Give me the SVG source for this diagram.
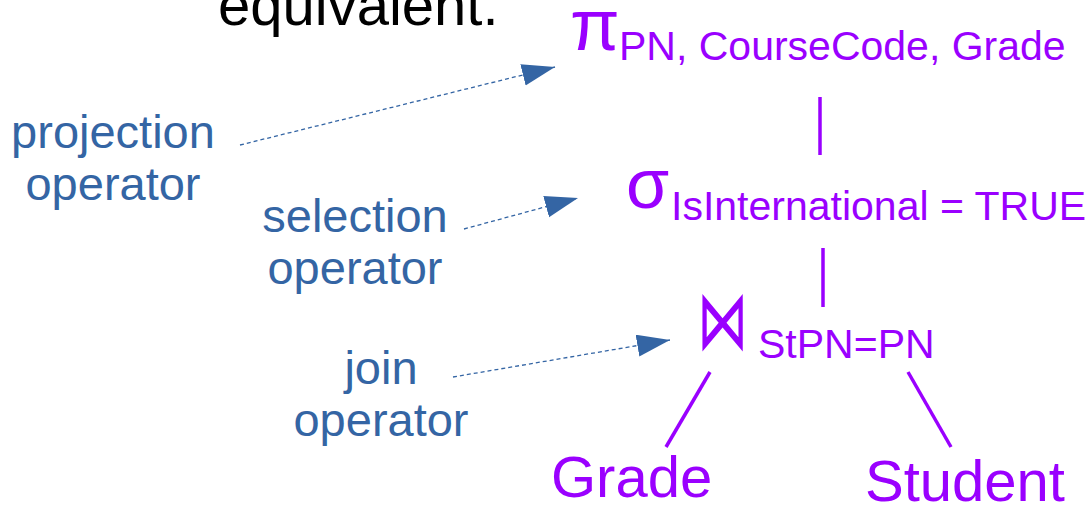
<svg xmlns="http://www.w3.org/2000/svg" width="1091" height="508" viewBox="0 0 1091 508">
<style>
.p{fill:#9a00ff;font-family:"Liberation Sans",Arial,sans-serif}
.b{fill:#3465a4;font-family:"Liberation Sans",Arial,sans-serif;font-size:47px;text-anchor:middle}
.e{stroke:#9a00ff;stroke-width:3.5;fill:none}
.a{stroke:#3465a4;stroke-width:1.3;stroke-dasharray:4 3;fill:none}
</style>
<defs>
<marker id="ah" markerUnits="userSpaceOnUse" markerWidth="34" markerHeight="24" refX="33" refY="11" orient="auto" viewBox="0 0 34 24">
<path d="M0,0 L33,11 L0,22 Z" fill="#3465a4"/>
</marker>
</defs>
<rect width="1091" height="508" fill="#fff"/>
<text x="218" y="25" font-family="Liberation Sans,Arial,sans-serif" font-size="58" fill="#000">equivalent.</text>
<g id="proj">
<text class="p" x="570" y="50" font-size="72">π</text>
<text class="p" x="619" y="60" font-size="41">PN, CourseCode, Grade</text>
</g>
<g id="sel">
<text class="p" x="626" y="208" font-size="70">σ</text>
<text class="p" x="671" y="220" font-size="41">IsInternational = TRUE</text>
</g>
<g id="join">
<text class="p" transform="translate(697,349) scale(0.88,1.44)" x="0" y="0" font-size="58" style="font-family:'DejaVu Sans',sans-serif">⋈</text>
<text class="p" x="758" y="358" font-size="41">StPN=PN</text>
</g>
<g id="grade"><text class="p" x="551" y="497" font-size="58">Grade</text></g>
<g id="student"><text class="p" x="865" y="501" font-size="58">Student</text></g>
<g id="lbl-proj"><text class="b" x="113" y="148">projection</text><text class="b" x="113" y="200">operator</text></g>
<g id="lbl-sel"><text class="b" x="355" y="232">selection</text><text class="b" x="355" y="284">operator</text></g>
<g id="lbl-join"><text class="b" x="381" y="384">join</text><text class="b" x="381" y="436">operator</text></g>
<g id="edges">
<line class="e" x1="820" y1="97" x2="820" y2="155"/>
<line class="e" x1="823" y1="248" x2="823" y2="307"/>
<line class="e" x1="710" y1="372" x2="666" y2="447"/>
<line class="e" x1="908" y1="372" x2="951" y2="447"/>
<path class="a" d="M240,145 L555,67" marker-end="url(#ah)"/>
<path class="a" d="M464,229 L578,198" marker-end="url(#ah)"/>
<path class="a" d="M453,377 L670,340" marker-end="url(#ah)"/>
</g>
</svg>
